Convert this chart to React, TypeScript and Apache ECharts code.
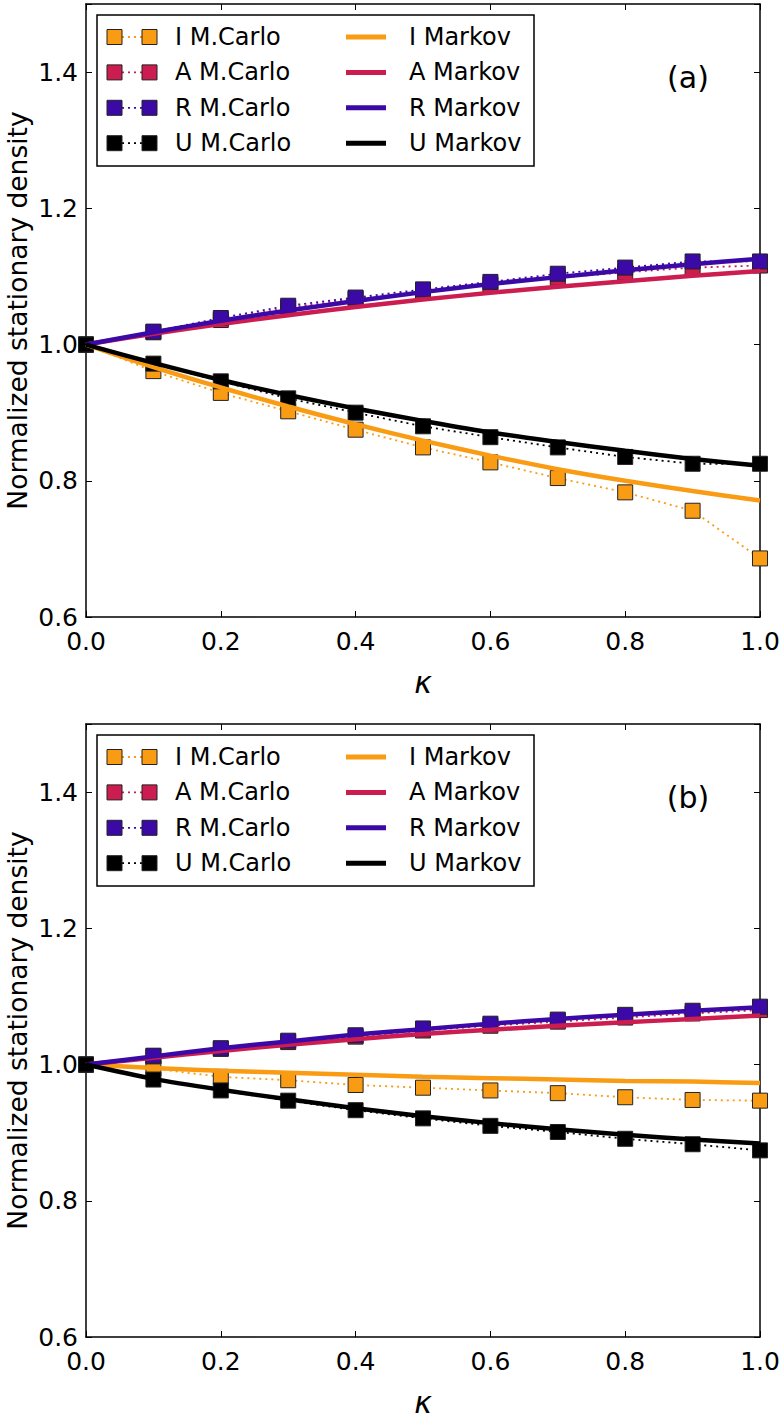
import React, { useEffect, useRef } from "react";
import * as echarts from "echarts";

// ---------------- data ----------------
const kappa = [0, 0.1, 0.2, 0.3, 0.4, 0.5, 0.6, 0.7, 0.8, 0.9, 1.0];
const xTickLabels = ["0.0", "0.2", "0.4", "0.6", "0.8", "1.0"];
const yTickLabels = ["0.6", "0.8", "1.0", "1.2", "1.4"];

const mcNames = ["I M.Carlo", "A M.Carlo", "R M.Carlo", "U M.Carlo"];
const mkNames = ["I Markov", "A Markov", "R Markov", "U Markov"];
const panelLabels = ["(a)", "(b)"];

// panel (a) Monte Carlo
const aIMC = [1.0, 0.961, 0.929, 0.902, 0.875, 0.849, 0.827, 0.804, 0.783, 0.756, 0.686];
const aAMC = [1.0, 1.018, 1.036, 1.054, 1.067, 1.078, 1.088, 1.098, 1.106, 1.113, 1.116];
const aRMC = [1.0, 1.019, 1.039, 1.057, 1.069, 1.081, 1.092, 1.104, 1.113, 1.122, 1.122];
const aUMC = [1.0, 0.972, 0.946, 0.921, 0.900, 0.880, 0.864, 0.849, 0.835, 0.825, 0.825];
// panel (a) Markov
const aIMk = [1.0, 0.967, 0.937, 0.909, 0.883, 0.859, 0.837, 0.817, 0.800, 0.785, 0.771];
const aAMk = [1.0, 1.016, 1.030, 1.043, 1.055, 1.066, 1.076, 1.085, 1.093, 1.101, 1.108];
const aRMk = [1.0, 1.018, 1.035, 1.050, 1.064, 1.077, 1.089, 1.099, 1.109, 1.118, 1.126];
const aUMk = [1.0, 0.973, 0.948, 0.926, 0.906, 0.888, 0.871, 0.857, 0.844, 0.832, 0.822];

// panel (b) Monte Carlo
const bIMC = [1.0, 0.994, 0.982, 0.977, 0.970, 0.966, 0.962, 0.958, 0.952, 0.948, 0.947];
const bAMC = [1.0, 1.012, 1.023, 1.033, 1.041, 1.050, 1.057, 1.063, 1.069, 1.075, 1.080];
const bRMC = [1.0, 1.013, 1.024, 1.035, 1.043, 1.053, 1.060, 1.066, 1.073, 1.079, 1.085];
const bUMC = [1.0, 0.978, 0.962, 0.947, 0.933, 0.921, 0.910, 0.901, 0.891, 0.883, 0.874];
// panel (b) Markov
const bIMk = [1.0, 0.995, 0.991, 0.988, 0.985, 0.982, 0.980, 0.978, 0.976, 0.975, 0.973];
const bAMk = [1.0, 1.010, 1.020, 1.029, 1.037, 1.045, 1.051, 1.057, 1.062, 1.067, 1.072];
const bRMk = [1.0, 1.012, 1.024, 1.034, 1.044, 1.052, 1.060, 1.067, 1.073, 1.079, 1.084];
const bUMk = [1.0, 0.979, 0.963, 0.949, 0.936, 0.924, 0.914, 0.905, 0.897, 0.890, 0.884];

const colors = ["#f99c14", "#cc1d50", "#3b0aa6", "#000000"];

const panels = [
  { mc: [aIMC, aAMC, aRMC, aUMC], mk: [aIMk, aAMk, aRMk, aUMk] },
  { mc: [bIMC, bAMC, bRMC, bUMC], mk: [bIMk, bAMk, bRMk, bUMk] },
];

// ---------------- layout ----------------
const FONT = "DejaVu Sans";
const GRID_LEFT = 86;
const GRID_W = 674;
const GRID_H = 613;
const GRID_TOPS = [4, 724];

export default function App() {
  const ref = useRef<HTMLDivElement>(null);

  useEffect(() => {
    if (!ref.current) return;
    const chart = echarts.init(ref.current, null, { renderer: "svg" });

    const grids: any[] = [];
    const xAxes: any[] = [];
    const yAxes: any[] = [];
    const series: any[] = [];
    const graphics: any[] = [];

    panels.forEach((p, pi) => {
      const top = GRID_TOPS[pi];
      grids.push({ left: GRID_LEFT, top, width: GRID_W, height: GRID_H, containLabel: false, outerBoundsMode: "none" });

      const axisLine = { show: true, onZero: false, lineStyle: { color: "#000", width: 1.5 } };
      const axisTick = { show: true, inside: true, length: 6, lineStyle: { color: "#000", width: 1 } };

      xAxes.push({
        type: "value", gridIndex: pi, position: "bottom", min: 0, max: 1, interval: 0.2,
        axisLine, axisTick, splitLine: { show: false },
        axisLabel: {
          margin: 12, color: "#000", fontFamily: FONT, fontSize: 25,
          formatter: (v: number) => xTickLabels[Math.round(v / 0.2)] ?? "",
        },
        name: "κ", nameLocation: "middle", nameGap: 50,
        nameTextStyle: { color: "#000", fontFamily: FONT, fontSize: 30, fontStyle: "italic" },
      });
      xAxes.push({
        type: "value", gridIndex: pi, position: "top", min: 0, max: 1, interval: 0.2,
        axisLine, axisTick, axisLabel: { show: false }, splitLine: { show: false },
      });
      yAxes.push({
        type: "value", gridIndex: pi, position: "left", min: 0.6, max: 1.5, interval: 0.2,
        axisLine, axisTick, splitLine: { show: false },
        axisLabel: {
          margin: 8, color: "#000", fontFamily: FONT, fontSize: 25,
          formatter: (v: number) => {
            const idx = Math.round((v - 0.6) / 0.2);
            return Math.abs(v - (0.6 + idx * 0.2)) < 1e-6 ? yTickLabels[idx] ?? "" : "";
          },
        },
        name: "Normalized stationary density", nameLocation: "middle", nameGap: 55,
        nameMoveOverlap: false,
        nameTextStyle: { color: "#000", fontFamily: FONT, fontSize: 26.5, lineHeight: 28 },
      });
      yAxes.push({
        type: "value", gridIndex: pi, position: "right", min: 0.6, max: 1.5, interval: 0.2,
        axisLine, axisTick, axisLabel: { show: false }, splitLine: { show: false },
      });

      const xi = pi * 2;
      const yi = pi * 2;
      p.mc.forEach((vals, si) => {
        series.push({
          type: "line", name: mcNames[si], xAxisIndex: xi, yAxisIndex: yi,
          data: kappa.map((k, i) => [k, vals[i]]),
          symbol: "rect", symbolSize: 15, showSymbol: true,
          lineStyle: { color: colors[si], width: 1.8, type: [2, 4] },
          itemStyle: { color: colors[si], borderColor: "#222", borderWidth: 1 },
          z: 2, silent: true,
        });
      });
      p.mk.forEach((vals, si) => {
        series.push({
          type: "line", name: mkNames[si], xAxisIndex: xi, yAxisIndex: yi,
          data: kappa.map((k, i) => [k, vals[i]]),
          symbol: "none", showSymbol: false, smooth: 0.3,
          lineStyle: { color: colors[si], width: 4.5 },
          z: 3, silent: true,
        });
      });

      // legend box
      const oy = top - 4;
      graphics.push({
        type: "rect", z: 10,
        shape: { x: 97, y: 15 + oy, width: 437, height: 151 },
        style: { fill: "#fff", stroke: "#000", lineWidth: 1.5 },
      });
      for (let i = 0; i < 4; i++) {
        const ry = 37 + i * 35.4 + oy;
        graphics.push({
          type: "line", z: 11,
          shape: { x1: 122, y1: ry, x2: 142, y2: ry },
          style: { stroke: colors[i], lineWidth: 1.8, lineDash: [2, 4] },
        });
        graphics.push({
          type: "rect", z: 12,
          shape: { x: 107, y: ry - 7.5, width: 15, height: 15 },
          style: { fill: colors[i], stroke: "#222", lineWidth: 1 },
        });
        graphics.push({
          type: "rect", z: 12,
          shape: { x: 142, y: ry - 7.5, width: 15, height: 15 },
          style: { fill: colors[i], stroke: "#222", lineWidth: 1 },
        });
        graphics.push({
          type: "text", z: 12, x: 175, y: ry,
          style: { text: mcNames[i], fill: "#000", font: `24px "${FONT}"`, textVerticalAlign: "middle", verticalAlign: "middle" },
        });
        graphics.push({
          type: "line", z: 11,
          shape: { x1: 346, y1: ry, x2: 386, y2: ry },
          style: { stroke: colors[i], lineWidth: 5 },
        });
        graphics.push({
          type: "text", z: 12, x: 409, y: ry,
          style: { text: mkNames[i], fill: "#000", font: `24px "${FONT}"`, textVerticalAlign: "middle", verticalAlign: "middle" },
        });
      }
      graphics.push({
        type: "text", z: 12, x: 688, y: 77 + oy,
        style: { text: panelLabels[pi], fill: "#000", font: `30px "${FONT}"`, align: "center", verticalAlign: "middle" },
      });
    });

    chart.setOption({
      animation: false,
      backgroundColor: "#fff",
      grid: grids,
      xAxis: xAxes,
      yAxis: yAxes,
      series,
      graphic: { elements: graphics },
    });

    return () => chart.dispose();
  }, []);

  return (
    <div
      ref={ref}
      style={{ position: "fixed", left: 0, top: 0, width: 780, height: 1424, background: "#fff" }}
    />
  );
}
